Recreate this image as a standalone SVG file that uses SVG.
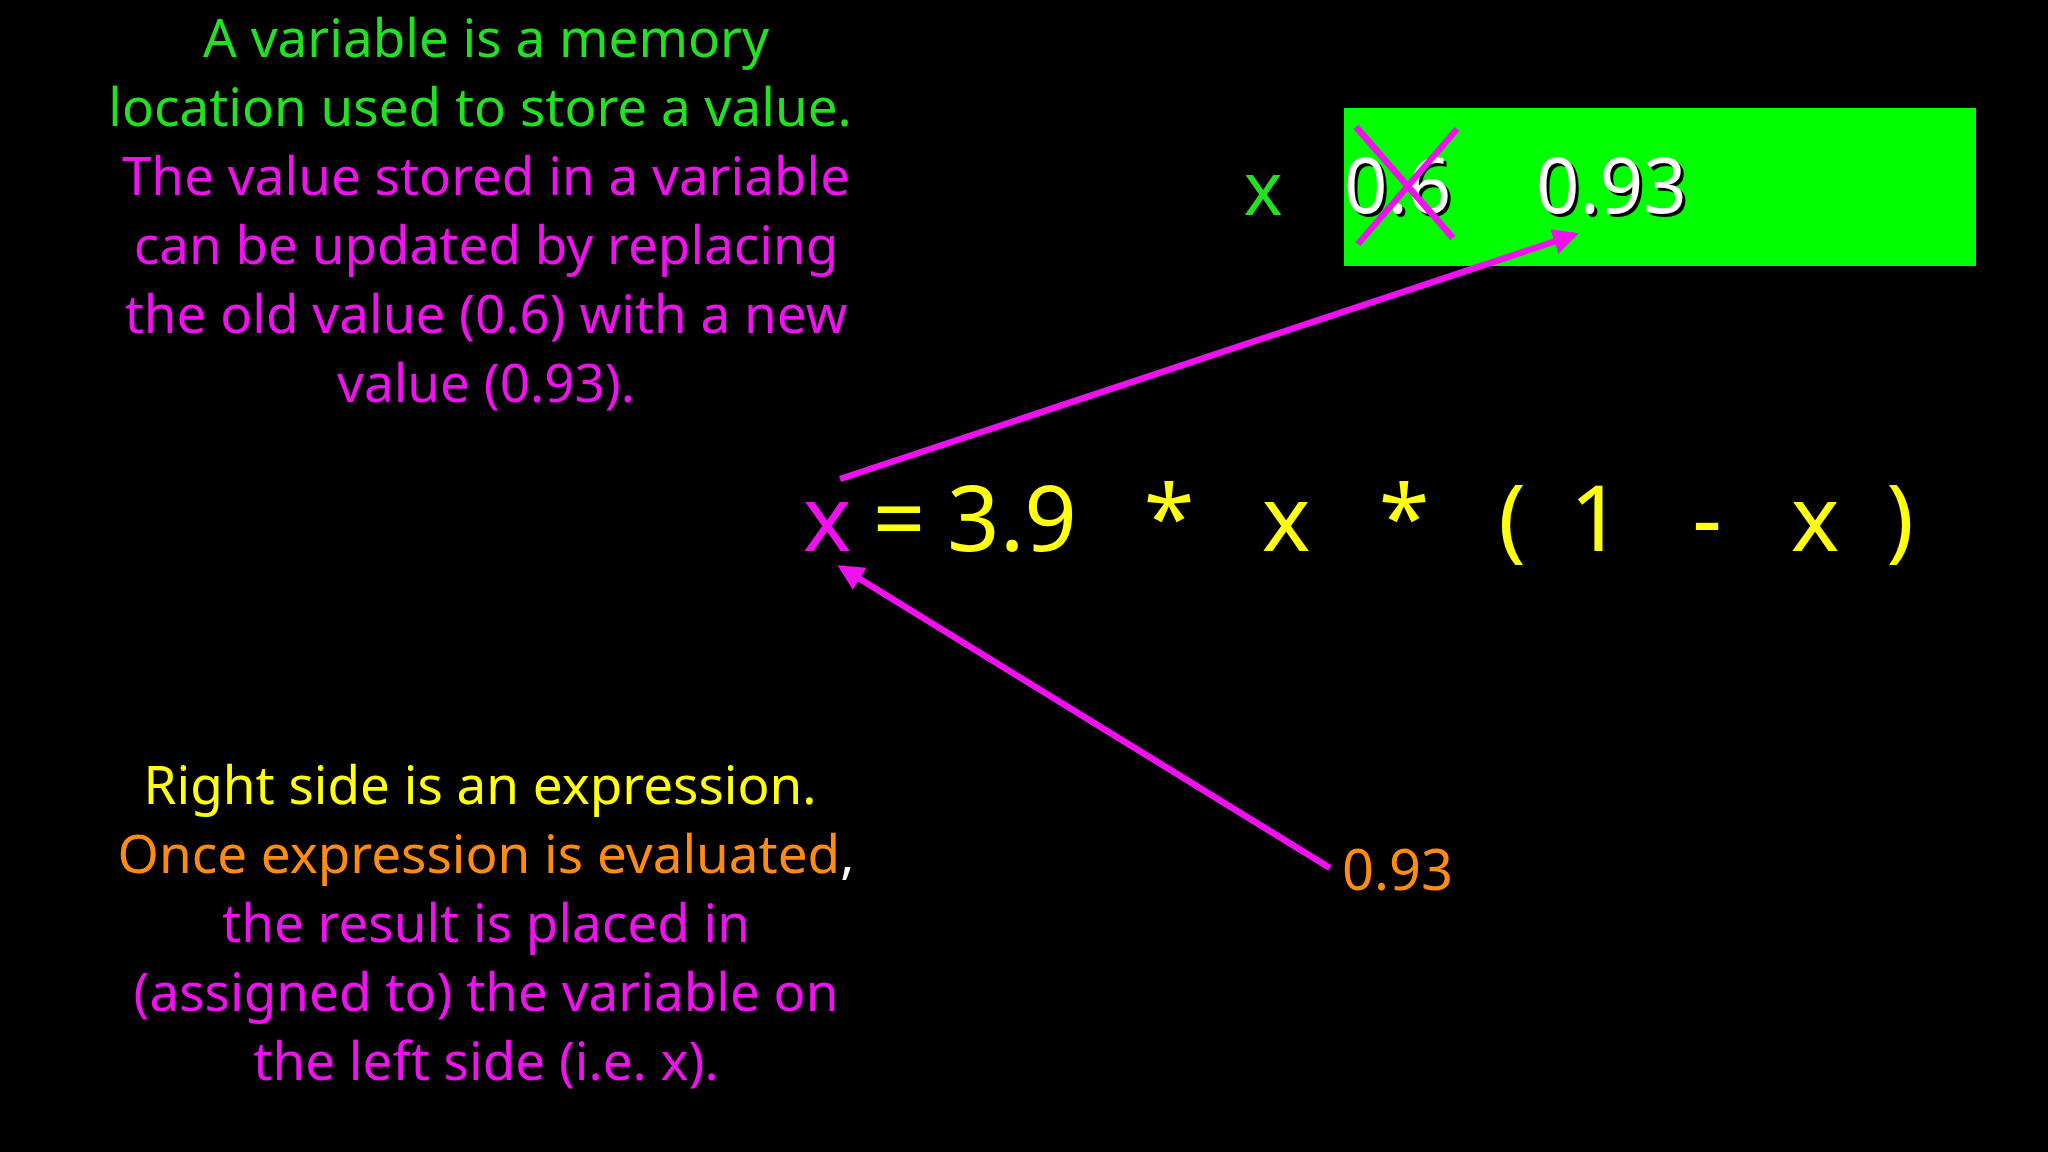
<svg xmlns="http://www.w3.org/2000/svg" width="2048" height="1152" viewBox="0 0 2048 1152">
<defs>
<style>
text{font-family:"Noto Sans","Open Sans",sans-serif}
.t{font-size:53px;text-anchor:middle}
.g{fill:#22e022}.m{fill:#f010f0}.y{fill:#ffff10}.o{fill:#ff8c10}.w{fill:#fff}
.eq{font-size:92px;text-anchor:middle}
.ln{stroke:#f010f0;stroke-width:6.5;fill:none}
</style>
<marker id="ah" viewBox="0 0 10 10" refX="8" refY="5" markerWidth="4" markerHeight="4" orient="auto"><path d="M0,0L10,5L0,10z" fill="#f010f0"/></marker>
</defs>
<rect width="2048" height="1152" fill="#000"/>
<g id="top-text" class="t">
<text x="486" y="57" class="g">A variable is a memory</text>
<text x="480" y="126" class="g">location used to store a value.</text>
<text x="486" y="195" class="m">The value stored in a variable</text>
<text x="486" y="264" class="m">can be updated by replacing</text>
<text x="486" y="333" class="m">the old value (0.6) with a new</text>
<text x="486" y="402" class="m">value (0.93).</text>
</g>
<g id="bottom-text" class="t">
<text x="480" y="804" class="y">Right side is an expression.</text>
<text x="486" y="873"><tspan class="o">Once expression is evaluated</tspan><tspan class="w">,</tspan></text>
<text x="486" y="942" class="m">the result is placed in</text>
<text x="486" y="1011" class="m">(assigned to) the variable on</text>
<text x="486" y="1080" class="m">the left side (i.e. x).</text>
</g>
<g id="memory">
<rect x="1344" y="108" width="632" height="158" fill="#00ff00"/>
<text x="1263" y="215" font-size="74" class="g" text-anchor="middle">x</text>
<text x="1347" y="216" font-size="76" fill="#000">0.6</text>
<text x="1344" y="213" font-size="76" class="w">0.6</text>
<text x="1539" y="216" font-size="76" fill="#000">0.93</text>
<text x="1536" y="213" font-size="76" class="w">0.93</text>
<path class="ln" d="M1356,127L1453,238M1457,129L1358,244" stroke-width="5"/>
</g>
<g id="equation" class="eq">
<text x="827" y="551" class="m">x</text>
<text x="899" y="551" class="y">=</text>
<text x="1012" y="551" class="y">3.9</text>
<text x="1169" y="551" class="y">*</text>
<text x="1286" y="551" class="y">x</text>
<text x="1404" y="551" class="y">*</text>
<text x="1512" y="551" class="y">(</text>
<text x="1596" y="551" class="y">1</text>
<text x="1707" y="551" class="y">-</text>
<text x="1815" y="551" class="y">x</text>
<text x="1900" y="551" class="y">)</text>
</g>
<g id="result"><text x="1342" y="890" font-size="56" class="o">0.93</text></g>
<g id="connectors">
<path class="ln" d="M840,479L1574,235" marker-end="url(#ah)"/>
<path class="ln" d="M1330,868L842,568" marker-end="url(#ah)"/>
</g>
</svg>
